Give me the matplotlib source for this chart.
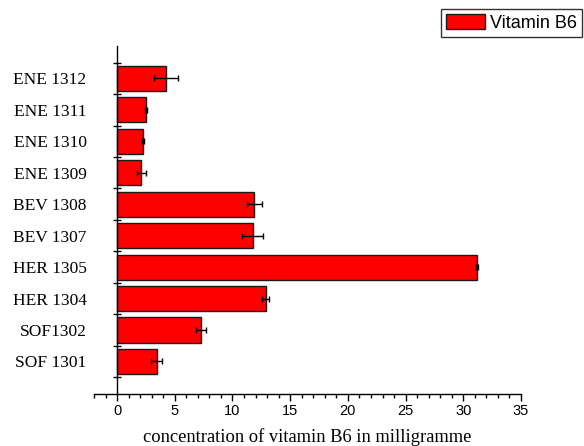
import matplotlib
matplotlib.use("Agg")
import matplotlib.pyplot as plt
from matplotlib.ticker import MultipleLocator, FixedLocator, NullFormatter

# Sample codes (bottom to top) and measured vitamin B6 content
samples = ["SOF 1301", "SOF1302", "HER 1304", "HER 1305", "BEV 1307",
           "BEV 1308", "ENE 1309", "ENE 1310", "ENE 1311", "ENE 1312"]
vitamin_b6 = [3.42, 7.27, 12.88, 31.18, 11.75, 11.87, 2.11, 2.26, 2.49, 4.26]
vitamin_b6_err = [0.46, 0.43, 0.30, 0.08, 0.93, 0.65, 0.40, 0.06, 0.10, 1.04]
x_ticks = [0, 5, 10, 15, 20, 25, 30, 35]

serif = "Liberation Serif"
sans = "Liberation Sans"

fig = plt.figure(figsize=(5.84, 4.46), dpi=100)
ax = fig.add_axes([94 / 584, 52.5 / 446, (521 - 94) / 584, (400 - 52.5) / 446])

pos = list(range(len(samples)))
ax.barh(pos, vitamin_b6, height=0.8, color="#ff0000", edgecolor="#1a1a1a",
        linewidth=1.0, label="Vitamin B6", zorder=2)
ax.errorbar(vitamin_b6, pos, xerr=vitamin_b6_err, fmt="none", ecolor="black",
            elinewidth=1.0, capsize=2.3, capthick=1.0, zorder=3)

ax.set_xlim(-2, 35)
ax.set_ylim(-1.02, 10.03)

# Spines: y axis placed at x = 0, only bottom and left shown
ax.spines["left"].set_position(("data", 0))
ax.spines["right"].set_visible(False)
ax.spines["top"].set_visible(False)
for s in ("left", "bottom"):
    ax.spines[s].set_linewidth(1.0)
    ax.spines[s].set_zorder(4)

# x ticks
ax.xaxis.set_major_locator(FixedLocator(x_ticks))
ax.xaxis.set_minor_locator(MultipleLocator(1))
ax.tick_params(axis="x", which="major", direction="out", length=5, width=1.0,
               labelsize=10.5, pad=2.5)
ax.tick_params(axis="x", which="minor", direction="out", length=3, width=1.0)
for lbl in ax.get_xticklabels():
    lbl.set_fontfamily(sans)

# y ticks: labels at bar centres, tick marks at bar boundaries
ax.yaxis.set_major_locator(FixedLocator(pos))
ax.set_yticklabels(samples, fontfamily=serif, fontsize=12.5)
ax.yaxis.set_minor_locator(FixedLocator([p - 0.5 for p in pos] + [len(pos) - 0.5]))
ax.yaxis.set_minor_formatter(NullFormatter())
ax.tick_params(axis="y", which="major", length=0, pad=22)
ax.tick_params(axis="y", which="minor", direction="inout", length=6, width=1.0)

ax.set_xlabel("concentration of vitamin B6 in milligramme", fontfamily=serif,
              fontsize=13.3)
ax.xaxis.set_label_coords(0.5, -44 / 347.5)
ax.xaxis.label.set_va("center")

leg = fig.legend(loc="upper left", bbox_to_anchor=(441 / 584, 1 - 9 / 446),
                 bbox_transform=fig.transFigure, frameon=True, fancybox=False,
                 shadow=False, borderpad=0.3, handlelength=2.15, handleheight=0.85,
                 handletextpad=0.25, borderaxespad=0,
                 prop={"family": sans, "size": 13})
leg.get_frame().set_edgecolor("black")
leg.get_frame().set_linewidth(1.0)

fig.savefig("out.png", dpi=100)
